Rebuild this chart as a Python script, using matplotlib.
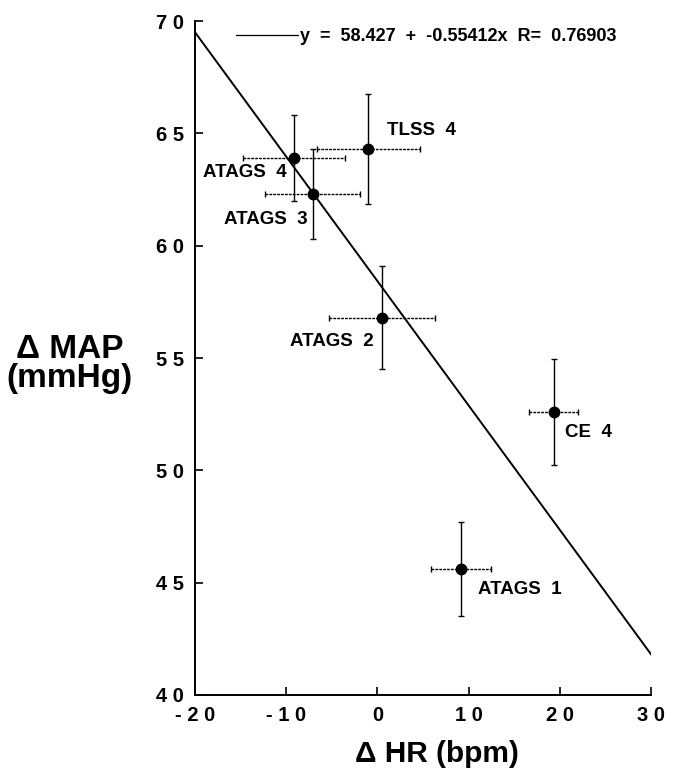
import matplotlib
matplotlib.use("Agg")
import matplotlib.pyplot as plt
import numpy as np

plt.rcParams['font.family'] = ['Liberation Sans', 'DejaVu Sans']
plt.rcParams['font.weight'] = 'bold'

# group means (delta HR, delta MAP) and their error bars
groups = ['ATAGS  4', 'ATAGS  3', 'TLSS  4', 'ATAGS  2', 'CE  4', 'ATAGS  1']
d_hr = [-9.1, -7.1, -1.0, 0.5, 19.3, 9.2]
d_map = [63.9, 62.3, 64.3, 56.8, 52.6, 45.6]
hr_err = [5.6, 5.2, 5.65, 5.85, 2.65, 3.3]
map_err = [1.9, 2.0, 2.45, 2.3, 2.35, 2.1]

# where each group label sits, and which side of it is anchored
label_x = [-9.9, -7.7, 1.0, -0.4, 20.6, 11.0]
label_y = [63.25, 61.15, 65.15, 55.75, 51.7, 44.7]
label_ha = ['right', 'right', 'left', 'right', 'left', 'left']

# linear fit reported on the figure
fit_intercept = 58.427
fit_slope = -0.55412
fit_r = 0.76903

x_ticks = [-20, -10, 0, 10, 20, 30]
x_ticklabels = ['- 2 0', '- 1 0', '0', '1 0', '2 0', '3 0']
y_ticks = [40, 45, 50, 55, 60, 65, 70]
y_ticklabels = ['4 0', '4 5', '5 0', '5 5', '6 0', '6 5', '7 0']


def main():
    fig = plt.figure(figsize=(6.84, 7.71), dpi=100)
    ax = fig.add_axes([0.285, 0.0986, 0.667, 0.874])

    xs = np.array([-20, 30])
    ax.plot(xs, fit_intercept + fit_slope * xs, color='black', lw=1.4,
            label=f'y  =  {fit_intercept}  +  {fit_slope}x  R=  {fit_r}')

    eb = ax.errorbar(d_hr, d_map, xerr=hr_err, yerr=map_err, fmt='o',
                     color='black', ms=7.5, elinewidth=1.0, capsize=2.5,
                     capthick=1.0, zorder=3)
    eb[2][0].set_linestyle((0, (2, 0.8)))

    for name, lx, ly, ha in zip(groups, label_x, label_y, label_ha):
        ax.text(lx, ly, name, ha=ha, va='center', fontsize=13.5,
                fontweight='bold')

    leg = ax.legend(loc='upper left', bbox_to_anchor=(0.055, 1.014),
                    frameon=False, handlelength=3.4, handletextpad=0.15,
                    prop={'size': 13, 'weight': 'bold'})
    leg.get_lines()[0].set_linewidth(0.9)

    ax.set_xlim(-20, 30)
    ax.set_ylim(40, 70)
    ax.set_xticks(x_ticks)
    ax.set_xticklabels(x_ticklabels)
    ax.set_yticks(y_ticks)
    ax.set_yticklabels(y_ticklabels)
    ax.tick_params(direction='in', length=6, width=1.2, labelsize=14.5,
                   pad=8)
    for lab in ax.get_xticklabels() + ax.get_yticklabels():
        lab.set_fontweight('bold')

    for side in ['top', 'right']:
        ax.spines[side].set_visible(False)
    for side in ['left', 'bottom']:
        ax.spines[side].set_linewidth(1.4)

    ax.set_xlabel('Δ HR (bpm)', fontsize=21.5, fontweight='bold',
                  va='center')
    ax.xaxis.set_label_coords(0.53, -0.088)
    fig.text(0.102, 0.528, 'Δ MAP\n(mmHg)', ha='center', va='center',
             fontsize=24, fontweight='bold', linespacing=0.95)

    fig.savefig('out.png', dpi=100)


if __name__ == "__main__":
    main()
